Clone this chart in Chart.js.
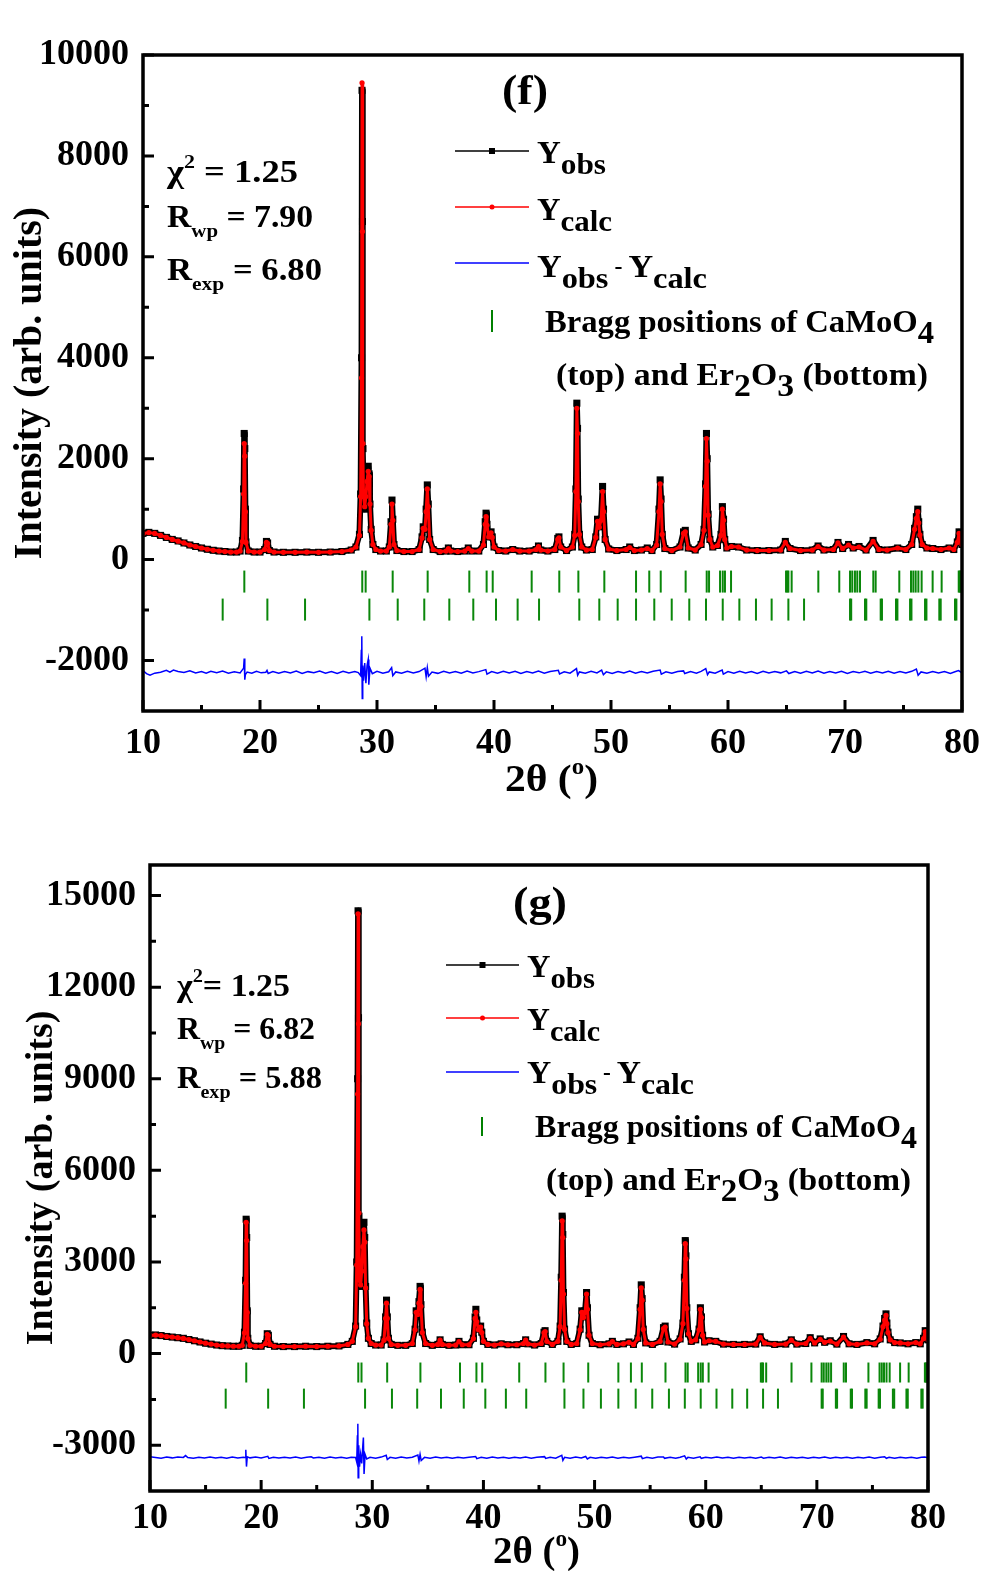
<!DOCTYPE html>
<html>
<head>
<meta charset="utf-8">
<script src="https://cdn.jsdelivr.net/npm/chart.js@4.4.1/dist/chart.umd.min.js"></script>
<style>
  body { margin: 0; background: #fff; }
  canvas { position: absolute; left: 0; }
  #cf { top: 0; }
  #cg { top: 810px; }
</style>
</head>
<body>
<canvas id="cf" width="984" height="810"></canvas>
<canvas id="cg" width="984" height="761"></canvas>
<script>
// axis ticks
const xTicks = [10, 20, 30, 40, 50, 60, 70, 80];
const xMinor = [15, 25, 35, 45, 55, 65, 75];
const fYTicks = [-2000, 0, 2000, 4000, 6000, 8000, 10000];
const fYMinor = [-1000, 1000, 3000, 5000, 7000, 9000];
const gYTicks = [-3000, 0, 3000, 6000, 9000, 12000, 15000];
const gYMinor = [-1500, 1500, 4500, 7500, 10500, 13500];

// Bragg reflections (2theta)
const braggCaMoO4 = [18.66, 28.74, 29.03, 31.34, 34.33, 37.89, 39.37, 39.89, 43.22, 45.58, 47.21, 49.43, 52.14, 53.27,
  54.25, 56.38, 58.18, 58.38, 59.32, 59.55, 59.74, 60.26, 64.96, 65.08, 65.16, 65.44, 67.72, 69.51, 70.43, 70.62,
  70.85, 71.05, 71.28, 72.42, 72.62, 74.64, 75.64, 75.84, 76.04, 76.27, 76.55, 77.49, 78.26, 79.72, 79.8, 79.88, 79.96];
const braggEr2O3 = [16.81, 20.63, 23.85, 29.35, 31.77, 34.04, 36.18, 38.23, 40.17, 42.02, 43.85, 47.29, 49.0, 50.57,
  52.14, 53.70, 55.19, 56.69, 58.12, 59.55, 60.97, 62.39, 63.73, 65.16, 66.50, 70.43, 70.53, 71.71, 71.82, 73.05,
  73.16, 74.36, 74.48, 75.56, 75.68, 76.84, 76.96, 78.06, 78.18, 79.40, 79.52];

// panel (f)
const fObs = [
  [10,520],[10.5,540],[11,520],[11.5,480],[12,440],[12.5,400],[13,370],[13.5,330],[14,290],[14.5,260],
  [15,230],[15.5,205],[16,185],[16.5,170],[17,160],[17.5,150],[18,150],[18.3,170],[18.5,380],[18.6,1400],
  [18.65,2500],[18.7,2200],[18.75,1000],[18.8,350],[19,170],[19.5,150],[20,150],[20.4,200],[20.55,360],[20.65,330],
  [20.8,180],[21.2,150],[22,145],[23,145],[24,150],[25,145],[26,150],[27,160],[27.8,190],[28.2,250],
  [28.5,500],[28.6,1300],[28.68,4000],[28.72,9300],[28.76,6700],[28.8,2200],[28.85,1300],[28.95,1000],[29.05,1300],[29.15,1600],
  [29.25,1850],[29.32,1700],[29.4,1100],[29.5,600],[29.65,300],[29.9,200],[30.3,170],[30.8,170],[31.05,250],[31.2,750],
  [31.28,1180],[31.35,800],[31.45,300],[31.7,180],[32.3,160],[33,160],[33.6,200],[33.85,450],[33.95,650],[34.1,600],
  [34.2,1000],[34.3,1480],[34.38,1100],[34.5,400],[34.8,200],[35.4,160],[35.9,170],[36.1,230],[36.3,170],[36.9,160],
  [37.5,170],[37.8,230],[38.1,170],[38.7,170],[39.1,300],[39.25,750],[39.32,920],[39.4,700],[39.55,450],[39.75,550],
  [39.85,450],[40,250],[40.4,180],[41,170],[41.6,200],[42.2,170],[43,170],[43.6,200],[43.8,270],[44,190],
  [44.6,170],[45.2,200],[45.45,420],[45.55,450],[45.7,250],[46.2,180],[46.7,250],[46.9,500],[47,1400],[47.08,3100],
  [47.14,2600],[47.2,1200],[47.3,500],[47.5,250],[47.9,190],[48.4,200],[48.7,450],[48.85,800],[49,650],[49.15,800],
  [49.28,1450],[49.36,1000],[49.5,400],[49.8,210],[50.5,180],[51.3,200],[51.6,250],[52,180],[52.6,190],[53.1,230],
  [53.5,180],[53.9,300],[54.1,1000],[54.2,1580],[54.28,1200],[54.38,500],[54.6,220],[55.2,180],[55.9,250],[56.2,550],
  [56.35,580],[56.6,230],[57.2,190],[57.7,300],[57.95,600],[58.08,1500],[58.16,2500],[58.22,2000],[58.3,900],[58.45,400],
  [58.7,250],[59.1,280],[59.4,500],[59.52,1050],[59.62,800],[59.72,400],[59.9,230],[60.3,260],[60.9,250],[61.6,190],
  [62.5,180],[63.5,180],[64.5,190],[64.9,360],[65.3,220],[66.2,180],[67.2,190],[67.7,270],[68.2,190],[69,200],
  [69.4,340],[69.8,220],[70.3,300],[70.7,230],[71.2,260],[71.8,190],[72.4,380],[72.9,200],[73.6,190],[74.5,230],
  [75.2,200],[75.7,300],[75.95,620],[76.1,850],[76.22,1000],[76.3,750],[76.4,500],[76.6,300],[77,230],[77.5,220],
  [78.2,200],[78.9,230],[79.3,200],[79.6,350],[79.75,550],[79.9,400],[80,300]
];
const fCalc = [
  [10,515],[10.5,535],[11,520],[11.5,480],[12,440],[12.5,400],[13,365],[13.5,330],[14,290],[14.5,260],
  [15,230],[15.5,205],[16,185],[16.5,170],[17,160],[17.5,150],[18,150],[18.3,170],[18.5,360],[18.6,1300],
  [18.65,2300],[18.7,2050],[18.75,950],[18.8,340],[19,170],[19.5,150],[20,150],[20.4,200],[20.55,340],[20.65,320],
  [20.8,180],[21.2,150],[22,145],[23,145],[24,150],[25,145],[26,150],[27,160],[27.8,190],[28.2,250],
  [28.5,480],[28.6,1250],[28.68,3600],[28.72,9450],[28.76,6500],[28.8,2300],[28.85,1250],[28.95,1050],[29.05,1250],[29.15,1550],
  [29.25,1750],[29.32,1650],[29.4,1100],[29.5,580],[29.65,300],[29.9,200],[30.3,170],[30.8,170],[31.05,250],[31.2,700],
  [31.28,1100],[31.35,780],[31.45,300],[31.7,180],[32.3,160],[33,160],[33.6,200],[33.85,430],[33.95,620],[34.1,600],
  [34.2,950],[34.3,1400],[34.38,1050],[34.5,400],[34.8,200],[35.4,160],[35.9,170],[36.1,220],[36.3,170],[36.9,160],
  [37.5,170],[37.8,220],[38.1,170],[38.7,170],[39.1,290],[39.25,700],[39.32,850],[39.4,680],[39.55,450],[39.75,530],
  [39.85,440],[40,250],[40.4,180],[41,170],[41.6,200],[42.2,170],[43,170],[43.6,200],[43.8,260],[44,190],
  [44.6,170],[45.2,200],[45.45,400],[45.55,430],[45.7,250],[46.2,180],[46.7,250],[46.9,480],[47,1350],[47.08,3000],
  [47.14,2500],[47.2,1150],[47.3,500],[47.5,250],[47.9,190],[48.4,200],[48.7,440],[48.85,760],[49,640],[49.15,780],
  [49.28,1350],[49.36,950],[49.5,400],[49.8,210],[50.5,180],[51.3,200],[51.6,240],[52,180],[52.6,190],[53.1,220],
  [53.5,180],[53.9,290],[54.1,950],[54.2,1500],[54.28,1150],[54.38,500],[54.6,220],[55.2,180],[55.9,250],[56.2,520],
  [56.35,550],[56.6,230],[57.2,190],[57.7,300],[57.95,580],[58.08,1450],[58.16,2400],[58.22,1950],[58.3,880],[58.45,400],
  [58.7,250],[59.1,280],[59.4,480],[59.52,1000],[59.62,780],[59.72,400],[59.9,230],[60.3,260],[60.9,250],[61.6,190],
  [62.5,180],[63.5,180],[64.5,190],[64.9,340],[65.3,220],[66.2,180],[67.2,190],[67.7,260],[68.2,190],[69,200],
  [69.4,330],[69.8,220],[70.3,290],[70.7,230],[71.2,250],[71.8,190],[72.4,360],[72.9,200],[73.6,190],[74.5,230],
  [75.2,200],[75.7,300],[75.95,600],[76.1,820],[76.22,950],[76.3,730],[76.4,490],[76.6,300],[77,230],[77.5,220],
  [78.2,200],[78.9,230],[79.3,200],[79.6,340],[79.75,520],[79.9,390],[80,300]
];
const fDiff = [
  [10,-2200],[10.3,-2260],[10.6,-2290],[11,-2250],[11.5,-2230],[12,-2195],[12.3,-2232],[12.6,-2190],[13,-2218],[13.5,-2236],
  [14,-2205],[14.5,-2248],[15,-2220],[15.4,-2252],[15.8,-2214],[16.3,-2240],[16.8,-2210],[17.3,-2250],[17.8,-2222],[18.3,-2246],
  [18.6,-2150],[18.65,-1960],[18.7,-2380],[18.75,-2280],[18.9,-2230],[19.3,-2252],[19.7,-2212],[20.1,-2244],[20.5,-2232],[20.6,-2195],
  [20.7,-2258],[21.1,-2218],[21.6,-2250],[22.1,-2216],[22.6,-2246],[23.1,-2210],[23.6,-2254],[24.1,-2220],[24.6,-2242],[25.1,-2208],
  [25.6,-2250],[26.1,-2218],[26.6,-2256],[27.1,-2214],[27.6,-2246],[28.1,-2220],[28.4,-2240],[28.6,-2300],[28.66,-1800],[28.7,-1520],
  [28.74,-2750],[28.78,-2100],[28.85,-2400],[28.95,-2050],[29.05,-2450],[29.15,-2100],[29.25,-1980],[29.3,-2480],[29.4,-2150],[29.6,-2260],
  [30,-2215],[30.5,-2250],[31,-2222],[31.25,-2140],[31.35,-2300],[31.6,-2226],[32.1,-2252],[32.6,-2212],[33.1,-2246],[33.6,-2218],
  [34.1,-2150],[34.2,-2320],[34.3,-2140],[34.4,-2310],[34.7,-2228],[35.2,-2254],[35.7,-2214],[36.2,-2248],[36.7,-2218],[37.2,-2252],
  [37.7,-2210],[38.2,-2246],[38.7,-2220],[39.3,-2180],[39.4,-2270],[39.8,-2218],[40.3,-2250],[40.8,-2214],[41.3,-2244],[41.8,-2212],
  [42.3,-2254],[42.8,-2220],[43.3,-2248],[43.8,-2210],[44.3,-2252],[44.8,-2218],[45.5,-2195],[45.6,-2265],[46,-2222],[46.5,-2250],
  [47.05,-2160],[47.15,-2290],[47.3,-2226],[47.8,-2252],[48.3,-2214],[48.8,-2246],[49.2,-2190],[49.35,-2280],[49.6,-2224],[50.1,-2254],
  [50.6,-2216],[51.1,-2248],[51.6,-2210],[52.1,-2250],[52.6,-2220],[53.1,-2246],[53.6,-2212],[54.2,-2190],[54.3,-2270],[54.7,-2224],
  [55.2,-2252],[55.7,-2216],[56.2,-2205],[56.3,-2258],[56.8,-2220],[57.3,-2250],[57.7,-2214],[58.1,-2160],[58.25,-2280],[58.4,-2226],
  [58.9,-2250],[59.5,-2190],[59.6,-2270],[60,-2220],[60.5,-2252],[61,-2214],[61.5,-2246],[62,-2218],[62.5,-2254],[63,-2212],
  [63.5,-2248],[64,-2220],[64.5,-2244],[65,-2205],[65.2,-2258],[65.7,-2220],[66.2,-2250],[66.7,-2214],[67.2,-2246],[67.7,-2208],
  [68.2,-2252],[68.7,-2218],[69.2,-2248],[69.7,-2212],[70.2,-2254],[70.7,-2220],[71.2,-2244],[71.7,-2214],[72.2,-2250],[72.7,-2218],
  [73.2,-2246],[73.7,-2212],[74.2,-2252],[74.7,-2220],[75.2,-2248],[75.7,-2214],[76.1,-2170],[76.25,-2290],[76.5,-2226],[77,-2252],
  [77.5,-2216],[78,-2246],[78.5,-2218],[79,-2254],[79.4,-2222],[79.7,-2200],[80,-2242]
];

// panel (g)
const gObs = [
  [10,600],[10.5,610],[11,590],[11.5,560],[12,540],[12.5,520],[13,500],[13.5,460],[14,420],[14.5,380],
  [15,340],[15.5,310],[16,280],[16.5,260],[17,250],[17.5,240],[18,240],[18.3,270],[18.5,700],[18.6,2400],
  [18.65,4400],[18.7,3800],[18.75,1400],[18.8,500],[19,270],[19.5,240],[20,240],[20.4,330],[20.55,650],[20.65,600],
  [20.8,300],[21.2,240],[22,230],[23,230],[24,240],[25,230],[26,240],[27,250],[27.8,300],[28.2,400],
  [28.5,900],[28.6,3000],[28.68,9000],[28.72,14500],[28.76,11000],[28.8,4500],[28.85,2500],[28.95,2200],[29.05,2800],[29.15,3700],
  [29.25,4300],[29.32,3800],[29.4,2200],[29.5,1000],[29.65,500],[29.9,330],[30.3,280],[30.8,280],[31.05,450],[31.2,1200],
  [31.28,1750],[31.35,1200],[31.45,500],[31.7,300],[32.3,270],[33,270],[33.6,330],[33.85,800],[33.95,1400],[34.1,1300],
  [34.2,1700],[34.3,2200],[34.38,1600],[34.5,700],[34.8,330],[35.4,270],[35.9,300],[36.1,450],[36.3,300],[36.9,270],
  [37.5,280],[37.8,400],[38.1,290],[38.7,290],[39.1,500],[39.25,1200],[39.32,1450],[39.4,1100],[39.55,800],[39.75,900],
  [39.85,700],[40,400],[40.4,300],[41,280],[41.6,320],[42.2,290],[43,290],[43.6,330],[43.8,450],[44,320],
  [44.6,280],[45.2,330],[45.45,700],[45.55,750],[45.7,400],[46.2,300],[46.7,400],[46.9,900],[47,2500],[47.08,4500],
  [47.14,3900],[47.2,2000],[47.3,800],[47.5,400],[47.9,300],[48.4,330],[48.7,800],[48.85,1400],[49,1200],[49.15,1400],
  [49.28,2000],[49.36,1500],[49.5,600],[49.8,330],[50.5,290],[51.3,320],[51.6,400],[52,300],[52.6,320],[53.1,380],
  [53.5,300],[53.9,500],[54.1,1500],[54.2,2250],[54.28,1800],[54.38,800],[54.6,350],[55.2,300],[55.9,400],[56.2,850],
  [56.35,900],[56.6,380],[57.2,310],[57.7,480],[57.95,1000],[58.08,2500],[58.16,3700],[58.22,3200],[58.3,1500],[58.45,650],
  [58.7,400],[59.1,450],[59.4,800],[59.52,1500],[59.62,1200],[59.72,600],[59.9,380],[60.3,420],[60.9,400],[61.6,310],
  [62.5,300],[63.5,300],[64.5,310],[64.9,550],[65.3,350],[66.2,300],[67.2,310],[67.7,450],[68.2,310],[69,330],
  [69.4,520],[69.8,350],[70.3,480],[70.7,370],[71.2,420],[71.8,310],[72.4,560],[72.9,320],[73.6,300],[74.5,360],
  [75.2,320],[75.7,480],[75.95,900],[76.1,1150],[76.22,1300],[76.3,1000],[76.4,700],[76.6,450],[77,360],[77.5,350],
  [78.2,320],[78.9,360],[79.3,320],[79.6,500],[79.75,750],[79.9,550],[80,450]
];
const gCalc = [
  [10,595],[10.5,605],[11,590],[11.5,560],[12,540],[12.5,520],[13,495],[13.5,460],[14,420],[14.5,380],
  [15,340],[15.5,310],[16,280],[16.5,260],[17,250],[17.5,240],[18,240],[18.3,270],[18.5,680],[18.6,2300],
  [18.65,4300],[18.7,3700],[18.75,1350],[18.8,490],[19,270],[19.5,240],[20,240],[20.4,330],[20.55,630],[20.65,590],
  [20.8,300],[21.2,240],[22,230],[23,230],[24,240],[25,230],[26,240],[27,250],[27.8,300],[28.2,400],
  [28.5,880],[28.6,2900],[28.68,8500],[28.72,14400],[28.76,10800],[28.8,4600],[28.85,2400],[28.95,2250],[29.05,2700],[29.15,3500],
  [29.25,4050],[29.32,3650],[29.4,2150],[29.5,980],[29.65,500],[29.9,330],[30.3,280],[30.8,280],[31.05,440],[31.2,1150],
  [31.28,1650],[31.35,1150],[31.45,500],[31.7,300],[32.3,270],[33,270],[33.6,330],[33.85,780],[33.95,1350],[34.1,1280],
  [34.2,1650],[34.3,2100],[34.38,1550],[34.5,690],[34.8,330],[35.4,270],[35.9,300],[36.1,440],[36.3,300],[36.9,270],
  [37.5,280],[37.8,390],[38.1,290],[38.7,290],[39.1,490],[39.25,1150],[39.32,1350],[39.4,1050],[39.55,780],[39.75,870],
  [39.85,690],[40,400],[40.4,300],[41,280],[41.6,320],[42.2,290],[43,290],[43.6,330],[43.8,440],[44,320],
  [44.6,280],[45.2,330],[45.45,680],[45.55,720],[45.7,400],[46.2,300],[46.7,400],[46.9,880],[47,2400],[47.08,4350],
  [47.14,3800],[47.2,1950],[47.3,800],[47.5,400],[47.9,300],[48.4,330],[48.7,780],[48.85,1350],[49,1180],[49.15,1350],
  [49.28,1950],[49.36,1450],[49.5,600],[49.8,330],[50.5,290],[51.3,320],[51.6,390],[52,300],[52.6,320],[53.1,370],
  [53.5,300],[53.9,490],[54.1,1450],[54.2,2150],[54.28,1750],[54.38,790],[54.6,350],[55.2,300],[55.9,400],[56.2,820],
  [56.35,870],[56.6,380],[57.2,310],[57.7,470],[57.95,980],[58.08,2400],[58.16,3600],[58.22,3100],[58.3,1480],[58.45,650],
  [58.7,400],[59.1,450],[59.4,780],[59.52,1450],[59.62,1180],[59.72,600],[59.9,380],[60.3,420],[60.9,400],[61.6,310],
  [62.5,300],[63.5,300],[64.5,310],[64.9,530],[65.3,350],[66.2,300],[67.2,310],[67.7,440],[68.2,310],[69,330],
  [69.4,500],[69.8,350],[70.3,470],[70.7,370],[71.2,410],[71.8,310],[72.4,540],[72.9,320],[73.6,300],[74.5,350],
  [75.2,320],[75.7,470],[75.95,880],[76.1,1100],[76.22,1250],[76.3,980],[76.4,690],[76.6,450],[77,360],[77.5,350],
  [78.2,320],[78.9,360],[79.3,320],[79.6,490],[79.75,720],[79.9,540],[80,450]
];
const gDiff = [
  [10,-3380],[10.5,-3400],[11,-3425],[11.5,-3390],[12,-3415],[12.5,-3385],[13,-3400],[13.2,-3340],[13.4,-3405],[13.9,-3425],
  [14.4,-3392],[14.9,-3418],[15.4,-3388],[15.9,-3422],[16.4,-3396],[16.9,-3428],[17.4,-3390],[17.9,-3420],[18.4,-3395],[18.55,-3405],
  [18.62,-3150],[18.68,-3700],[18.75,-3380],[19,-3415],[19.5,-3390],[20,-3420],[20.6,-3365],[20.7,-3435],[21.1,-3395],[21.6,-3422],
  [22.1,-3392],[22.6,-3418],[23.1,-3388],[23.6,-3424],[24.1,-3396],[24.5,-3378],[24.7,-3420],[25.2,-3394],[25.7,-3426],[26.2,-3390],
  [26.7,-3418],[27.2,-3392],[27.7,-3424],[28.1,-3396],[28.5,-3405],[28.6,-3550],[28.66,-2700],[28.7,-2300],[28.73,-4070],[28.78,-3000],
  [28.85,-3700],[28.95,-3300],[29.05,-3600],[29.15,-3000],[29.2,-2750],[29.26,-3940],[29.35,-3300],[29.5,-3450],[29.8,-3396],[30.3,-3424],
  [30.8,-3390],[31.25,-3330],[31.35,-3470],[31.6,-3398],[32.1,-3426],[32.6,-3390],[33.1,-3420],[33.6,-3394],[34.1,-3320],[34.2,-3520],
  [34.3,-3300],[34.4,-3500],[34.7,-3398],[35.2,-3424],[35.7,-3390],[36.2,-3422],[36.7,-3394],[37.2,-3426],[37.7,-3392],[38.2,-3420],
  [38.7,-3396],[39.3,-3370],[39.4,-3440],[39.8,-3396],[40.3,-3424],[40.8,-3390],[41.3,-3420],[41.8,-3394],[42.3,-3426],[42.8,-3392],
  [43.3,-3420],[43.8,-3388],[44.3,-3424],[44.8,-3396],[45.5,-3375],[45.6,-3435],[46,-3398],[46.5,-3424],[47.05,-3330],[47.15,-3500],
  [47.3,-3398],[47.8,-3426],[48.3,-3390],[48.8,-3420],[49.2,-3370],[49.35,-3450],[49.6,-3398],[50.1,-3424],[50.6,-3392],[51.1,-3420],
  [51.6,-3388],[52.1,-3426],[52.6,-3394],[53.1,-3420],[53.6,-3392],[54.2,-3360],[54.3,-3440],[54.7,-3396],[55.2,-3424],[55.7,-3390],
  [56.2,-3385],[56.3,-3430],[56.8,-3394],[57.3,-3424],[57.7,-3392],[58.1,-3350],[58.25,-3450],[58.4,-3398],[58.9,-3424],[59.5,-3380],
  [59.6,-3430],[60,-3394],[60.5,-3422],[61,-3390],[61.5,-3420],[62,-3396],[62.5,-3426],[63,-3392],[63.5,-3418],[64,-3394],
  [64.5,-3424],[65,-3390],[65.2,-3425],[65.7,-3396],[66.2,-3420],[66.7,-3390],[67.2,-3424],[67.7,-3394],[68.2,-3420],[68.7,-3392],
  [69.2,-3426],[69.7,-3394],[70.2,-3420],[70.7,-3390],[71.2,-3424],[71.7,-3396],[72.2,-3420],[72.7,-3392],[73.2,-3424],[73.7,-3394],
  [74.2,-3420],[74.7,-3390],[75.2,-3424],[75.7,-3396],[76.1,-3380],[76.25,-3430],[76.5,-3396],[77,-3424],[77.5,-3392],[78,-3420],
  [78.5,-3394],[79,-3424],[79.4,-3396],[79.7,-3390],[80,-3412]
];

const FONT = '"Liberation Serif", "Times New Roman", serif';

function rich(ctx, x, y, parts, size, width) {
  const font = s => `bold ${s}px ${FONT}`;
  let w = 0;
  for (const [t, r] of parts) { ctx.font = font(size * r); w += ctx.measureText(t).width; }
  ctx.save();
  ctx.translate(x, y);
  if (width) ctx.scale(width / w, 1);
  ctx.fillStyle = '#000';
  ctx.textAlign = 'left';
  ctx.textBaseline = 'alphabetic';
  let cx = 0;
  for (const [t, r, d] of parts) {
    ctx.font = font(size * r);
    ctx.fillText(t, cx, d * size);
    cx += ctx.measureText(t).width;
  }
  ctx.restore();
}

const annotPlugin = {
  id: 'annot',
  afterDatasetsDraw(chart, args, o) {
    const { ctx, chartArea: a, scales: { x, y } } = chart;
    ctx.save();
    ctx.strokeStyle = '#000';
    ctx.lineWidth = 3.5;
    ctx.strokeRect(a.left, a.top, a.right - a.left, a.bottom - a.top);
    ctx.lineWidth = 3;
    ctx.beginPath();
    xTicks.forEach(v => { const p = x.getPixelForValue(v); ctx.moveTo(p, a.bottom); ctx.lineTo(p, a.bottom - 11); });
    xMinor.forEach(v => { const p = x.getPixelForValue(v); ctx.moveTo(p, a.bottom); ctx.lineTo(p, a.bottom - 6); });
    o.yMajor.forEach(v => { const p = y.getPixelForValue(v); ctx.moveTo(a.left, p); ctx.lineTo(a.left + 11, p); });
    o.yMinor.forEach(v => { const p = y.getPixelForValue(v); ctx.moveTo(a.left, p); ctx.lineTo(a.left + 6, p); });
    ctx.stroke();
    ctx.restore();
  },
  afterDraw(chart, args, o) {
    const ctx = chart.ctx;
    ctx.save();
    // x title
    rich(ctx, o.xt[0], o.xt[1], [['2θ (', 1, 0], ['o', 0.6, -0.45], [')', 1, 0]], 37, o.xt[2]);
    // panel letter
    rich(ctx, o.tag[0], o.tag[1], [[o.tag[3], 1, 0]], 43, o.tag[2]);
    // fit statistics
    o.stats.forEach(s => rich(ctx, s[0], s[1], s[3], 31, s[2]));
    // legend samples
    const [x0, x1] = o.lx;
    const xm = (x0 + x1) / 2;
    const cols = ['#000', '#ff0000', '#0000ff'];
    o.ly.forEach((yy, i) => {
      ctx.strokeStyle = cols[i];
      ctx.lineWidth = 1.5;
      ctx.beginPath(); ctx.moveTo(x0, yy); ctx.lineTo(x1, yy); ctx.stroke();
      ctx.fillStyle = cols[i];
      if (i === 0) ctx.fillRect(xm - 3, yy - 3, 6, 6);
      if (i === 1) { ctx.beginPath(); ctx.arc(xm, yy, 2.5, 0, Math.PI * 2); ctx.fill(); }
    });
    ctx.strokeStyle = '#008000';
    ctx.lineWidth = 2;
    ctx.beginPath(); ctx.moveTo(o.bm[0], o.bm[1]); ctx.lineTo(o.bm[0], o.bm[2]); ctx.stroke();
    o.legend.forEach(s => rich(ctx, s[0], s[1], s[3], 32, s[2]));
    ctx.restore();
  }
};

function panel(id, p) {
  const bragg = (vals, row) => vals.map(v => ({ x: v, y: row }));
  return new Chart(document.getElementById(id), {
    type: 'scatter',
    data: {
      datasets: [
        { label: 'Ycalc', data: p.calc, showLine: true, borderColor: '#ff0000', borderWidth: 3,
          borderJoinStyle: 'round', pointStyle: 'circle', pointRadius: 2.6, pointBackgroundColor: '#ff0000',
          pointBorderWidth: 0, order: 0 },
        { label: 'Yobs', data: p.obs, showLine: true, borderColor: '#000', borderWidth: 6,
          borderJoinStyle: 'round', pointStyle: 'rect', pointRadius: 5, pointBackgroundColor: '#000',
          pointBorderWidth: 0, order: 1 },
        { label: 'Yobs - Ycalc', data: p.diff, showLine: true, borderColor: '#0000ff', borderWidth: 1.5,
          pointRadius: 0, order: 2 },
        { label: 'CaMoO4', data: bragg(braggCaMoO4, p.rowCa), pointStyle: 'line', pointRotation: 90,
          pointRadius: p.tick, pointBorderColor: '#0a870a', pointBorderWidth: 2, order: 3 },
        { label: 'Er2O3', data: bragg(braggEr2O3, p.rowEr), pointStyle: 'line', pointRotation: 90,
          pointRadius: p.tick, pointBorderColor: '#0a870a', pointBorderWidth: 2, order: 3 }
      ]
    },
    options: {
      responsive: false,
      devicePixelRatio: 1,
      animation: false,
      events: [],
      layout: { padding: { top: p.top, right: p.right, left: 0, bottom: 0 } },
      plugins: { legend: { display: false }, tooltip: { enabled: false }, annot: p.annot },
      scales: {
        x: {
          type: 'linear', min: 10, max: 80,
          afterFit: s => { s.height = p.xh; s.paddingLeft = 0; s.paddingRight = 0; },
          afterBuildTicks: s => { s.ticks = xTicks.map(v => ({ value: v })); },
          grid: { display: false, drawTicks: false },
          border: { display: false },
          ticks: { autoSkip: false, maxRotation: 0, padding: p.xPad, color: '#000',
            font: { family: FONT, size: 36, weight: 'bold' }, callback: v => String(v) }
        },
        y: {
          type: 'linear', min: p.ymin, max: p.ymax,
          afterFit: s => { s.width = p.yw; },
          afterBuildTicks: s => { s.ticks = p.yTicks.map(v => ({ value: v })); },
          grid: { display: false, drawTicks: false },
          border: { display: false },
          ticks: { autoSkip: false, padding: 14, color: '#000',
            font: { family: FONT, size: 36, weight: 'bold' }, callback: v => String(v) },
          title: { display: true, text: 'Intensity (arb. units)', color: '#000',
            padding: { top: p.titlePad, bottom: 0 }, font: { family: FONT, size: p.titleSize, weight: 'bold' } }
        }
      }
    },
    plugins: [annotPlugin]
  });
}

const yLegendParts = [
  [['Y', 1, 0], ['obs', 0.95, 0.33]],
  [['Y', 1, 0], ['calc', 0.95, 0.33]],
  [['Y', 1, 0], ['obs', 0.95, 0.33], [' - ', 0.7, -0.1], ['Y', 1, 0], ['calc', 0.95, 0.33]],
  [['Bragg positions of CaMoO', 1, 0], ['4', 1, 0.33]],
  [['(top) and Er', 1, 0], ['2', 1, 0.33], ['O', 1, 0], ['3', 1, 0.33], [' (bottom)', 1, 0]]
];

panel('cf', {
  obs: fObs, calc: fCalc, diff: fDiff, rowCa: -435, rowEr: -990, tick: 11,
  ymin: -3000, ymax: 10000, yTicks: fYTicks,
  top: 55, right: 22, xh: 99, yw: 143, titlePad: 7, titleSize: 40, xPad: 11,
  annot: {
    yMajor: fYTicks, yMinor: fYMinor,
    xt: [505, 791, 93],
    tag: [502, 104, 46, '(f)'],
    stats: [
      [167, 182, 131, [['χ', 1, 0], ['2', 0.6, -0.45], [' = 1.25', 1, 0]]],
      [167, 227, 146, [['R', 1, 0], ['wp', 0.62, 0.33], [' = 7.90', 1, 0]]],
      [167, 280, 155, [['R', 1, 0], ['exp', 0.62, 0.33], [' = 6.80', 1, 0]]]
    ],
    lx: [455, 529], ly: [151, 207, 263], bm: [492, 310, 332],
    legend: [
      [537, 163, 69, yLegendParts[0]],
      [537, 220, 75, yLegendParts[1]],
      [537, 277, 170, yLegendParts[2]],
      [545, 332, 389, yLegendParts[3]],
      [556, 385, 372, yLegendParts[4]]
    ]
  }
});

panel('cg', {
  obs: gObs, calc: gCalc, diff: gDiff, rowCa: -620, rowEr: -1475, tick: 10,
  ymin: -4500, ymax: 16000, yTicks: gYTicks,
  top: 55, right: 56, xh: 80, yw: 150, titlePad: 19, titleSize: 38, xPad: 6,
  annot: {
    yMajor: gYTicks, yMinor: gYMinor,
    xt: [493, 753, 87],
    tag: [513, 106, 54, '(g)'],
    stats: [
      [177, 186, 113, [['χ', 1, 0], ['2', 0.6, -0.45], ['= 1.25', 1, 0]]],
      [177, 229, 138, [['R', 1, 0], ['wp', 0.62, 0.33], [' = 6.82', 1, 0]]],
      [177, 278, 145, [['R', 1, 0], ['exp', 0.62, 0.33], [' = 5.88', 1, 0]]]
    ],
    lx: [446, 519], ly: [155, 208, 262], bm: [482, 307, 326],
    legend: [
      [527, 167, 68, yLegendParts[0]],
      [527, 220, 73, yLegendParts[1]],
      [527, 273, 167, yLegendParts[2]],
      [535, 327, 382, yLegendParts[3]],
      [546, 380, 365, yLegendParts[4]]
    ]
  }
});
</script>
</body>
</html>
